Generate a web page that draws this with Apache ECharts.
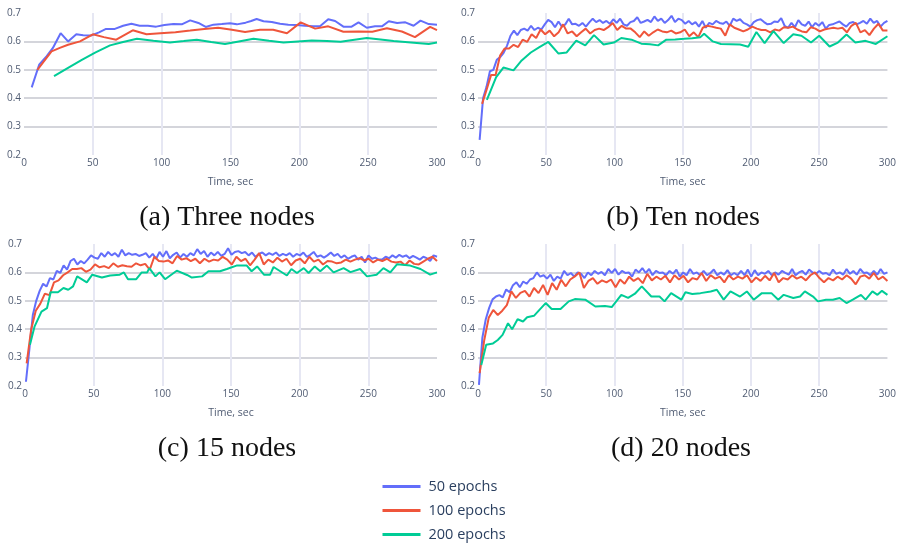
<!DOCTYPE html>
<html>
<head>
<meta charset="utf-8">
<script src="https://cdn.jsdelivr.net/npm/echarts@6/dist/echarts.min.js"></script>
<style>
  html, body { margin: 0; padding: 0; background: #ffffff; }
  #chart { width: 899px; height: 547px; }
</style>
</head>
<body>
<div id="chart"></div>
<script>
// Accuracy over training time for different node counts and epoch settings.
const seriesNames = ['50 epochs', '100 epochs', '200 epochs'];
const seriesColors = ['#636efa', '#ef553b', '#00cc96'];
const captions = ['(a) Three nodes', '(b) Ten nodes', '(c) 15 nodes', '(d) 20 nodes'];
const xTicks = [0, 50, 100, 150, 200, 250, 300];
const yTicks = [0.2, 0.3, 0.4, 0.5, 0.6, 0.7];

// (a) Three nodes
const threeBlueT = [5.6, 11, 16.5, 21, 26.6, 32, 38, 43, 49, 54.5, 59.6, 66, 72, 78, 84, 90, 96, 102, 108.5, 114.6,
  120.7, 126.7, 132, 137.6, 143.7, 149.7, 154.6, 161, 165, 169, 174, 180, 186, 192, 198, 204, 210, 215, 221, 226,
  232, 238, 243, 249, 255, 260, 265, 271, 277, 283, 288, 294, 300];
const threeBlue = [0.438, 0.518, 0.548, 0.577, 0.629, 0.600, 0.625, 0.622, 0.621, 0.632, 0.644, 0.644, 0.655, 0.662, 0.655, 0.655, 0.652, 0.658, 0.661, 0.660,
  0.674, 0.665, 0.651, 0.659, 0.661, 0.664, 0.660, 0.666, 0.672, 0.679, 0.671, 0.668, 0.662, 0.659, 0.658, 0.655, 0.653, 0.653, 0.678, 0.672,
  0.652, 0.652, 0.667, 0.648, 0.653, 0.653, 0.671, 0.665, 0.667, 0.655, 0.673, 0.661, 0.659];
const threeRedT = [9.7, 20, 26, 32, 40.7, 50, 58, 67, 79, 89, 99, 110, 120.7, 131, 141, 151, 160.6, 171.5, 181, 191,
  201, 211.5, 221, 232, 243, 253, 263.6, 274.5, 284, 295, 300];
const threeRed = [0.500, 0.565, 0.577, 0.588, 0.600, 0.625, 0.615, 0.606, 0.639, 0.625, 0.629, 0.632, 0.638, 0.644, 0.648, 0.641, 0.633, 0.641, 0.641, 0.629,
  0.667, 0.645, 0.653, 0.634, 0.635, 0.634, 0.646, 0.635, 0.615, 0.651, 0.640];
const threeGreenT = [21.8, 32, 42, 52, 62.5, 72, 82, 94, 106, 116, 125.5, 136, 146, 156, 166.7, 178, 188.5, 199, 209, 220,
  230, 240, 249, 259, 268.5, 281, 294, 300];
const threeGreen = [0.478, 0.507, 0.535, 0.561, 0.586, 0.598, 0.609, 0.602, 0.596, 0.601, 0.606, 0.598, 0.591, 0.600, 0.609, 0.602, 0.596, 0.600, 0.603, 0.601,
  0.599, 0.606, 0.612, 0.607, 0.601, 0.596, 0.591, 0.596];

// (b) Ten nodes: 50 and 100 epochs are logged at a fixed rate over the span
const tenBlueSpan = [1.2, 300];
const tenBlue = [0.253, 0.400, 0.440, 0.495, 0.500, 0.535, 0.545, 0.560, 0.585, 0.620,
  0.638, 0.622, 0.640, 0.645, 0.638, 0.655, 0.640, 0.648, 0.642, 0.660,
  0.676, 0.668, 0.650, 0.670, 0.652, 0.660, 0.680, 0.660, 0.662, 0.655,
  0.665, 0.652, 0.667, 0.680, 0.668, 0.675, 0.665, 0.672, 0.662, 0.678,
  0.665, 0.680, 0.660, 0.655, 0.668, 0.672, 0.685, 0.665, 0.670, 0.676,
  0.668, 0.688, 0.672, 0.680, 0.665, 0.675, 0.690, 0.668, 0.680, 0.675,
  0.662, 0.672, 0.660, 0.668, 0.652, 0.672, 0.648, 0.665, 0.660, 0.672,
  0.665, 0.662, 0.670, 0.655, 0.680, 0.672, 0.678, 0.665, 0.660, 0.652,
  0.668, 0.675, 0.678, 0.668, 0.660, 0.662, 0.670, 0.668, 0.682, 0.655,
  0.648, 0.665, 0.650, 0.675, 0.660, 0.655, 0.670, 0.650, 0.665, 0.655,
  0.668, 0.645, 0.658, 0.660, 0.665, 0.670, 0.660, 0.652, 0.665, 0.668,
  0.660, 0.665, 0.672, 0.662, 0.680, 0.665, 0.672, 0.652, 0.665, 0.672];
const tenRedSpan = [3, 300];
const tenRed = [0.380, 0.430, 0.482, 0.482, 0.550, 0.575, 0.575, 0.588, 0.580, 0.606,
  0.598, 0.625, 0.612, 0.642, 0.625, 0.638, 0.618, 0.632, 0.660, 0.628,
  0.635, 0.618, 0.632, 0.645, 0.628, 0.640, 0.645, 0.640, 0.650, 0.665,
  0.640, 0.655, 0.645, 0.645, 0.632, 0.615, 0.635, 0.620, 0.632, 0.642,
  0.635, 0.632, 0.638, 0.628, 0.632, 0.642, 0.618, 0.632, 0.615, 0.648,
  0.655, 0.652, 0.648, 0.645, 0.620, 0.660, 0.648, 0.642, 0.635, 0.642,
  0.652, 0.645, 0.640, 0.640, 0.632, 0.642, 0.638, 0.650, 0.648, 0.652,
  0.642, 0.635, 0.632, 0.650, 0.645, 0.635, 0.642, 0.645, 0.648, 0.645,
  0.648, 0.632, 0.655, 0.665, 0.632, 0.640, 0.622, 0.645, 0.662, 0.638, 0.638];
const tenGreenT = [6.5, 13.3, 18.6, 26, 32, 38.7, 44.7, 51.5, 59, 65, 72, 78.6, 85, 92, 99.6, 105, 112.5, 119.7, 126, 132,
  138, 144.5, 151, 157, 163, 165.7, 172, 178, 185, 192, 198, 204, 210, 216.5, 224, 231, 237, 244, 250, 257.6,
  263.7, 270, 276.5, 284, 291.5, 300];
const tenGreen = [0.394, 0.474, 0.508, 0.498, 0.533, 0.561, 0.579, 0.598, 0.557, 0.561, 0.603, 0.586, 0.622, 0.589, 0.596, 0.612, 0.606, 0.592, 0.590, 0.586,
  0.606, 0.607, 0.609, 0.611, 0.615, 0.627, 0.600, 0.591, 0.590, 0.589, 0.581, 0.633, 0.594, 0.636, 0.594, 0.625, 0.620, 0.596, 0.620, 0.582,
  0.596, 0.624, 0.596, 0.602, 0.591, 0.618];

// (c) 15 nodes
const fifteenBlueSpan = [0.7, 300];
const fifteenBlue = [0.215, 0.330, 0.450, 0.500, 0.535, 0.560, 0.550, 0.580, 0.575, 0.605,
  0.598, 0.625, 0.610, 0.640, 0.648, 0.628, 0.640, 0.632, 0.645, 0.660,
  0.652, 0.648, 0.668, 0.655, 0.672, 0.660, 0.668, 0.655, 0.680, 0.660,
  0.668, 0.662, 0.665, 0.658, 0.662, 0.668, 0.652, 0.665, 0.648, 0.672,
  0.655, 0.675, 0.650, 0.662, 0.670, 0.652, 0.665, 0.655, 0.668, 0.660,
  0.682, 0.665, 0.675, 0.655, 0.670, 0.660, 0.672, 0.658, 0.665, 0.685,
  0.662, 0.672, 0.675, 0.668, 0.672, 0.660, 0.670, 0.655, 0.665, 0.670,
  0.660, 0.668, 0.662, 0.670, 0.658, 0.665, 0.660, 0.668, 0.655, 0.665,
  0.660, 0.670, 0.655, 0.662, 0.672, 0.655, 0.660, 0.652, 0.660, 0.670,
  0.658, 0.665, 0.652, 0.660, 0.648, 0.655, 0.660, 0.645, 0.655, 0.635,
  0.660, 0.648, 0.652, 0.645, 0.645, 0.655, 0.650, 0.660, 0.652, 0.662,
  0.655, 0.660, 0.650, 0.658, 0.652, 0.645, 0.655, 0.650, 0.640, 0.660, 0.655];
const fifteenRedSpan = [1.2, 300];
const fifteenRed = [0.280, 0.400, 0.465, 0.490, 0.525, 0.520, 0.565, 0.572, 0.590, 0.600,
  0.612, 0.612, 0.615, 0.602, 0.610, 0.628, 0.618, 0.622, 0.615, 0.632,
  0.620, 0.625, 0.622, 0.620, 0.632, 0.625, 0.630, 0.610, 0.655, 0.640,
  0.638, 0.642, 0.632, 0.658, 0.645, 0.650, 0.640, 0.648, 0.632, 0.648,
  0.638, 0.645, 0.642, 0.655, 0.645, 0.628, 0.655, 0.640, 0.648, 0.625,
  0.645, 0.668, 0.628, 0.645, 0.635, 0.652, 0.638, 0.648, 0.625, 0.642,
  0.648, 0.632, 0.655, 0.638, 0.645, 0.628, 0.640, 0.638, 0.632, 0.635,
  0.645, 0.638, 0.645, 0.650, 0.642, 0.648, 0.635, 0.645, 0.640, 0.648,
  0.638, 0.635, 0.638, 0.625, 0.642, 0.630, 0.628, 0.638, 0.648, 0.655, 0.640];
const fifteenGreenT = [3.6, 7, 12, 16, 18.7, 24, 28, 31.5, 35, 38, 45, 49, 56, 62, 69, 72, 75, 81, 85, 89,
  90.5, 95, 98, 102, 110.5, 118, 121.5, 129, 133.6, 142, 147, 154, 161.5, 165, 169, 174, 178.5, 181, 190.7, 194,
  198, 203, 206.5, 211, 215, 219.8, 224.7, 232, 237, 244, 249, 256, 261, 266, 271, 280.5, 288, 295, 300];
const fifteenGreen = [0.345, 0.410, 0.462, 0.474, 0.530, 0.530, 0.545, 0.539, 0.551, 0.586, 0.565, 0.592, 0.582, 0.589, 0.592, 0.600, 0.576, 0.576, 0.600, 0.600,
  0.615, 0.586, 0.600, 0.576, 0.606, 0.591, 0.582, 0.586, 0.604, 0.604, 0.612, 0.624, 0.624, 0.604, 0.621, 0.592, 0.592, 0.619, 0.589, 0.612,
  0.598, 0.615, 0.598, 0.621, 0.604, 0.624, 0.600, 0.615, 0.601, 0.612, 0.586, 0.592, 0.615, 0.600, 0.629, 0.624, 0.612, 0.592, 0.600];

// (d) 20 nodes
const twentyBlueSpan = [0.7, 300];
const twentyBlue = [0.204, 0.370, 0.435, 0.475, 0.505, 0.515, 0.520, 0.512, 0.540, 0.530,
  0.555, 0.565, 0.548, 0.568, 0.560, 0.575, 0.580, 0.600, 0.585, 0.590,
  0.578, 0.592, 0.570, 0.585, 0.578, 0.605, 0.590, 0.598, 0.585, 0.600,
  0.595, 0.580, 0.600, 0.590, 0.605, 0.595, 0.602, 0.590, 0.612, 0.598,
  0.612, 0.592, 0.605, 0.598, 0.600, 0.585, 0.610, 0.600, 0.615, 0.598,
  0.612, 0.590, 0.605, 0.598, 0.600, 0.590, 0.605, 0.595, 0.610, 0.585,
  0.600, 0.590, 0.612, 0.595, 0.600, 0.590, 0.605, 0.590, 0.598, 0.610,
  0.590, 0.600, 0.592, 0.608, 0.590, 0.598, 0.590, 0.605, 0.590, 0.610,
  0.585, 0.608, 0.590, 0.600, 0.595, 0.605, 0.590, 0.600, 0.592, 0.605,
  0.598, 0.592, 0.612, 0.590, 0.600, 0.605, 0.592, 0.610, 0.600, 0.595,
  0.605, 0.595, 0.598, 0.590, 0.610, 0.595, 0.600, 0.592, 0.612, 0.595,
  0.605, 0.592, 0.612, 0.598, 0.600, 0.590, 0.605, 0.592, 0.612, 0.595, 0.600];
const twentyRedSpan = [1.2, 300];
const twentyRed = [0.245, 0.360, 0.440, 0.468, 0.450, 0.465, 0.485, 0.533, 0.510, 0.528,
  0.535, 0.515, 0.545, 0.527, 0.556, 0.521, 0.562, 0.539, 0.574, 0.551,
  0.575, 0.586, 0.600, 0.545, 0.570, 0.580, 0.560, 0.572, 0.565, 0.575,
  0.548, 0.575, 0.560, 0.585, 0.570, 0.580, 0.562, 0.595, 0.572, 0.585,
  0.575, 0.588, 0.565, 0.590, 0.575, 0.588, 0.565, 0.580, 0.575, 0.598,
  0.570, 0.590, 0.578, 0.585, 0.565, 0.590, 0.575, 0.585, 0.578, 0.590,
  0.565, 0.582, 0.570, 0.588, 0.572, 0.598, 0.565, 0.580, 0.575, 0.590,
  0.578, 0.585, 0.572, 0.590, 0.600, 0.580, 0.565, 0.580, 0.572, 0.585,
  0.575, 0.590, 0.578, 0.558, 0.585, 0.590, 0.578, 0.598, 0.575, 0.585, 0.570];
const twentyGreenT = [2.4, 6, 11, 14.5, 18, 22, 25, 29, 33, 36, 41, 45, 49.6, 54, 60.5, 66.5, 71, 78.6, 86, 93,
  98, 105, 110, 115, 120, 127, 133, 136.7, 141.5, 149, 152, 157, 163, 170.5, 175, 180, 185, 192, 197, 202,
  208, 215, 220, 224, 231, 236, 239.5, 245.5, 249, 255, 260, 265, 270, 274.6, 280.6, 284, 289, 292.7, 296, 300];
const twentyGreen = [0.274, 0.345, 0.350, 0.362, 0.380, 0.421, 0.400, 0.435, 0.427, 0.442, 0.447, 0.468, 0.492, 0.471, 0.471, 0.498, 0.506, 0.504, 0.480, 0.482,
  0.478, 0.521, 0.510, 0.525, 0.551, 0.515, 0.515, 0.498, 0.527, 0.504, 0.530, 0.524, 0.527, 0.533, 0.539, 0.504, 0.533, 0.515, 0.533, 0.504,
  0.527, 0.527, 0.504, 0.521, 0.510, 0.515, 0.533, 0.515, 0.498, 0.504, 0.504, 0.510, 0.492, 0.504, 0.521, 0.504, 0.533, 0.521, 0.535, 0.521];

// Times for evenly logged runs: spread the samples across [start, end]
function evenTimes(span, count) {
  const step = (span[1] - span[0]) / (count - 1);
  return Array.from({ length: count }, (_, i) => span[0] + i * step);
}
function pairs(times, values) {
  return values.map((v, i) => [times[i], v]);
}

const panelData = [
  [pairs(threeBlueT, threeBlue), pairs(threeRedT, threeRed), pairs(threeGreenT, threeGreen)],
  [pairs(evenTimes(tenBlueSpan, tenBlue.length), tenBlue), pairs(evenTimes(tenRedSpan, tenRed.length), tenRed), pairs(tenGreenT, tenGreen)],
  [pairs(evenTimes(fifteenBlueSpan, fifteenBlue.length), fifteenBlue), pairs(evenTimes(fifteenRedSpan, fifteenRed.length), fifteenRed), pairs(fifteenGreenT, fifteenGreen)],
  [pairs(evenTimes(twentyBlueSpan, twentyBlue.length), twentyBlue), pairs(evenTimes(twentyRedSpan, twentyRed.length), twentyRed), pairs(twentyGreenT, twentyGreen)]
];

// Panel layout (plot rectangles) and caption anchors
const gridBoxes = [
  { left: 24, top: 13, width: 413, height: 142 },
  { left: 478, top: 13, width: 414, height: 142 },
  { left: 25, top: 244, width: 412, height: 142 },
  { left: 478, top: 244, width: 414, height: 142 }
];
const captionPos = [[227, 218], [683, 218], [227, 449], [681, 449]];

const tickColor = '#4f5b72';
const grids = [], xAxes = [], yAxes = [], series = [];
gridBoxes.forEach((box, p) => {
  grids.push(Object.assign({ containLabel: false }, box));
  xAxes.push({
    type: 'value', gridIndex: p, min: xTicks[0], max: xTicks[xTicks.length - 1], interval: 50,
    name: 'Time, sec', nameLocation: 'middle', nameGap: 22,
    nameTextStyle: { fontFamily: 'Open Sans', fontSize: 10.5, color: tickColor },
    axisLine: { show: false }, axisTick: { show: false },
    axisLabel: { fontFamily: 'Open Sans', fontSize: 10, color: tickColor, margin: 3 },
    splitLine: { show: true, showMinLine: false, showMaxLine: false, lineStyle: { color: '#e6e7f3', width: 2 } }
  });
  yAxes.push({
    type: 'value', gridIndex: p, min: yTicks[0], max: yTicks[yTicks.length - 1], interval: 0.1,
    axisLine: { show: false }, axisTick: { show: false },
    axisLabel: { fontFamily: 'Open Sans', fontSize: 10, color: tickColor, margin: 3, formatter: v => v.toFixed(1) },
    splitLine: { show: true, showMinLine: false, showMaxLine: false, lineStyle: { color: '#d4d5db', width: 2 } }
  });
  panelData[p].forEach((data, s) => {
    series.push({
      type: 'line', name: seriesNames[s], xAxisIndex: p, yAxisIndex: p,
      data: data, symbol: 'none', showSymbol: false, animation: false,
      lineStyle: { color: seriesColors[s], width: 2 }, itemStyle: { color: seriesColors[s] }
    });
  });
});

const chart = echarts.init(document.getElementById('chart'), null, { renderer: 'canvas' });
chart.setOption({
  animation: false,
  backgroundColor: '#ffffff',
  grid: grids,
  xAxis: xAxes,
  yAxis: yAxes,
  series: series,
  legend: {
    data: seriesNames, orient: 'vertical', left: 381, top: 479, padding: 0,
    itemWidth: 38, itemHeight: 14, itemGap: 9,
    lineStyle: { width: 3 },
    itemStyle: { opacity: 0, borderWidth: 0 },
    textStyle: { fontFamily: 'Open Sans', fontSize: 14.5, lineHeight: 14, color: '#2a3f5f', padding: [0, 0, 0, 3] }
  },
  graphic: captions.map((text, i) => ({
    type: 'text', x: captionPos[i][0], y: captionPos[i][1],
    style: { text: text, align: 'center', verticalAlign: 'middle', fill: '#111111',
      font: '28px "Liberation Serif", "DejaVu Serif", serif' }
  }))
});
</script>
</body>
</html>
